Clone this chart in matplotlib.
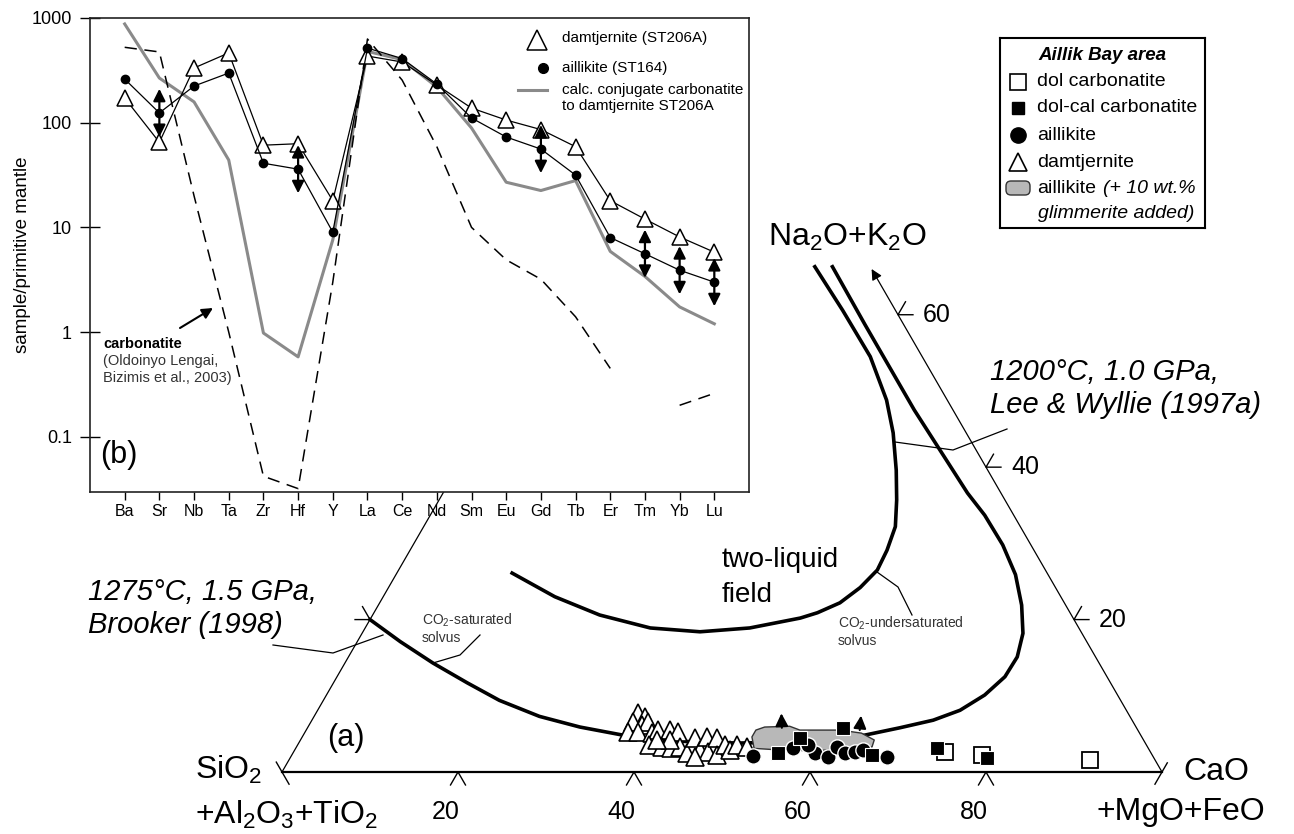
import numpy as np
import matplotlib
matplotlib.use('Agg')
from matplotlib import pyplot as plt
from matplotlib.patches import Polygon, FancyBboxPatch
from matplotlib.ticker import FixedLocator, NullLocator

plt.rcParams['font.family'] = ['Liberation Sans', 'DejaVu Sans']
plt.rcParams['mathtext.fontset'] = 'custom'
plt.rcParams['mathtext.rm'] = 'Liberation Sans'
plt.rcParams['mathtext.it'] = 'Liberation Sans:italic'
plt.rcParams['mathtext.bf'] = 'Liberation Sans:bold'

W, H = 1294, 834

# ---------------- (b) spider diagram, sample / primitive mantle ----------------
elements = ['Ba', 'Sr', 'Nb', 'Ta', 'Zr', 'Hf', 'Y', 'La', 'Ce', 'Nd',
            'Sm', 'Eu', 'Gd', 'Tb', 'Er', 'Tm', 'Yb', 'Lu']
damtjernite_st206a = [172, 65, 333, 464, 61, 63, 18, 433, 380, 229,
                      138, 106, 86, 59, 18, 12, 8.1, 5.8]
aillikite_st164 = [261, 124, 224, 298, 41, 36, 9.0, 516, 410, 234,
                   111, 73, 56, 31.6, 8.0, 5.6, 3.9, 3.0]
conjugate_carbonatite = [877, 267, 158, 44, 0.98, 0.58, 7.6, 480, 400, 219,
                         89, 27, 22.5, 28, 5.9, 3.4, 1.74, 1.2]
lengai_carbonatite = [525, 474, 20, 1.0, 0.042, 0.032, 3.0, 630, 255, 59,
                      10, 4.9, 3.2, 1.4, 0.45, np.nan, 0.20, 0.26]
range_elements = ['Sr', 'Hf', 'Gd', 'Tm', 'Yb', 'Lu']
range_factor = 1.7
yticks_b = [0.1, 1, 10, 100, 1000]
ytick_labels_b = ['0.1', '1', '10', '100', '1000']

# ---------------- (a) ternary, wt.% CaO+MgO+FeO and Na2O+K2O ----------------
damt_cao = [36.6, 37.6, 36.6, 37.8, 38.3, 36.7, 37.8, 39.5, 40.0, 41.3, 42.4, 40.0, 41.5, 42.7, 43.6,
            44.8, 44.7, 46.1, 46.0, 47.1, 47.2, 48.3, 48.6, 49.5, 50.0, 45.9, 42.0, 40.5, 51.2]
damt_alk = [7.7, 7.2, 6.6, 6.2, 6.6, 5.2, 5.2, 5.1, 5.5, 5.5, 5.2, 3.5, 3.3, 3.1, 3.3,
            2.5, 4.5, 2.9, 4.6, 2.6, 4.5, 2.2, 3.5, 2.9, 3.5, 2.0, 4.2, 4.2, 3.3]
aill_cao = [52.5, 56.5, 59.3, 61.1, 61.4, 62.7, 63.8, 64.6, 67.8, 58.0]
aill_alk = [2.1, 3.1, 2.5, 2.0, 3.3, 2.5, 2.6, 2.9, 2.0, 3.5]
dolcal_cao = [55.1, 56.6, 60.9, 65.9, 72.9, 79.2]
dolcal_alk = [2.5, 4.5, 5.8, 2.2, 3.1, 1.8]
dol_cao = [74.0, 78.5, 91.0]
dol_alk = [2.6, 2.2, 1.6]
glim_cao = [51.1, 51.1, 51.9, 54.7, 56.1, 60.7, 63.3, 65.2, 65.4, 63.1, 56.4, 52.1]
glim_alk = [4.6, 5.5, 5.9, 6.0, 5.5, 5.5, 5.1, 4.2, 3.3, 2.9, 2.8, 3.1]
glim_shift_from = [(53.9, 5.8), (62.9, 5.5)]
glim_shift_to = [(52.9, 7.7), (62.1, 7.4)]

brooker_cao = [0.0, 4.9, 10.0, 15.2, 20.0, 25.6, 30.9, 36.0, 40.9, 45.5, 50.1, 54.6, 59.0, 63.3, 67.3,
               70.6, 73.0, 74.8, 75.9, 76.0, 75.1, 73.1, 70.4, 67.0, 63.0, 59.6, 48.1, 36.9, 29.4]
brooker_alk = [20.0, 17.1, 14.3, 11.7, 9.4, 7.3, 5.9, 4.9, 4.2, 3.9, 3.8, 3.9, 4.2, 4.7, 5.8,
               6.8, 8.1, 10.1, 12.5, 15.1, 18.2, 21.9, 25.9, 29.8, 33.7, 36.6, 47.5, 58.7, 66.3]
leewyllie_cao = [13.1, 19.5, 25.8, 32.4, 38.3, 43.7, 48.8, 50.4, 52.3, 53.6, 54.4, 54.2, 53.6, 52.0,
                 50.0, 47.2, 44.3, 39.6, 33.4, 27.4]
leewyllie_alk = [26.1, 23.0, 20.6, 18.9, 18.4, 18.9, 20.2, 20.9, 22.2, 24.2, 26.5, 29.1, 32.2, 35.7,
                 39.6, 44.5, 48.8, 54.5, 60.6, 66.3]

base_ticks = [20, 40, 60, 80]
right_ticks = [20, 40, 60]
left_ticks = [20, 40, 60, 80]


def tern(cao, alk):
    c = np.asarray(cao, dtype=float) / 100
    a = np.asarray(alk, dtype=float) / 100
    return c + a / 2, a * np.sqrt(3) / 2


def px(x, y):
    # picture pixel -> ternary axes coords (base 880 px wide, at y=772)
    return (x - 282) / 880, (772 - y) / 880


def ipx(x, y):
    # picture pixel -> inset axes fraction
    return (x - 90) / 659, (492 - y) / 474


fig = plt.figure(figsize=(W / 100, H / 100), dpi=100)
fig.patch.set_facecolor('white')

# ---------------- ternary ----------------
ax = fig.add_axes([0, 0, 1, 1])
ax.set_xlim(-282 / 880, (W - 282) / 880)
ax.set_ylim(-(H - 772) / 880, 772 / 880)
ax.set_axis_off()

s3 = np.sqrt(3) / 2
ax.plot([0, 1], [0, 0], color='k', lw=1.6, zorder=2)
lx, ly = tern([0, 0], [0, 95])
ax.plot(lx, ly, color='k', lw=0.9, zorder=2)
ax.annotate('', xy=tern(34, 66), xytext=tern(100, 0),
            arrowprops=dict(arrowstyle='-|>', color='k', lw=0.9, mutation_scale=16,
                            shrinkA=0, shrinkB=0), zorder=2)

L = 0.017


def chevron(x0, y0, d1, d2):
    ax.plot([x0 + L * d1[0], x0, x0 + L * d2[0]], [y0 + L * d1[1], y0, y0 + L * d2[1]],
            color='k', lw=1.0, zorder=2)


for c in base_ticks:
    x0, y0 = tern(c, 0)
    chevron(x0, y0, (-0.5, -s3), (0.5, -s3))
    ax.annotate(f'{c}', xy=(float(x0), float(y0)), xytext=(-9, -29), textcoords='offset points',
                ha='center', va='center', fontsize=18)
for a in right_ticks:
    x0, y0 = tern(100 - a, a)
    chevron(x0, y0, (1, 0), (0.5, s3))
    ax.annotate(f'{a}', xy=(float(x0), float(y0)), xytext=(18, 0), textcoords='offset points',
                ha='left', va='center', fontsize=18)
for a in left_ticks:
    x0, y0 = tern(0, a)
    chevron(x0, y0, (-1, 0), (-0.5, s3))
ax.plot([-0.013 * 0.5, 0.016 * 0.5], [0.013 * s3, -0.016 * s3], color='k', lw=1.0)
ax.plot([1 - 0.016 * 0.5, 1 + 0.012 * 0.5], [-0.016 * s3, 0.012 * s3], color='k', lw=1.0)

# solvus curves
ax.plot(*tern(brooker_cao, brooker_alk), color='k', lw=2.6, solid_joinstyle='round', zorder=2)
ax.plot(*tern(leewyllie_cao, leewyllie_alk), color='k', lw=2.6, solid_joinstyle='round', zorder=2)

# glimmerite-added aillikite field
ax.add_patch(Polygon(np.column_stack(tern(glim_cao, glim_alk)), closed=True, fc='#b8b8b8',
                     ec='#333333', lw=1.0, joinstyle='round', zorder=3))
for (c0, a0), (c1, a1) in zip(glim_shift_from, glim_shift_to):
    ax.annotate('', xy=tern(c1, a1), xytext=tern(c0, a0),
                arrowprops=dict(arrowstyle='-|>', color='k', lw=1.5, mutation_scale=19,
                                shrinkA=0, shrinkB=0), zorder=8)

ax.plot(*tern(damt_cao, damt_alk), ls='none', marker='^', ms=13, mfc='white', mec='k', mew=1.2, zorder=4)
ax.plot(*tern(aill_cao, aill_alk), ls='none', marker='o', ms=11, mfc='k', mec='white', mew=1.0, zorder=5)
ax.plot(*tern(dol_cao, dol_alk), ls='none', marker='s', ms=11, mfc='white', mec='k', mew=1.3, zorder=5)
ax.plot(*tern(dolcal_cao, dolcal_alk), ls='none', marker='s', ms=10, mfc='k', mec='white', mew=0.8, zorder=6)

# labels of the ternary
ax.text(*px(768, 237), 'Na$_2$O+K$_2$O', fontsize=23, ha='left', va='center')
ax.text(*px(195, 770), 'SiO$_2$', fontsize=23, ha='left', va='center')
ax.text(*px(195, 815), '+Al$_2$O$_3$+TiO$_2$', fontsize=23, ha='left', va='center')
ax.text(*px(1183, 772), 'CaO', fontsize=23, ha='left', va='center')
ax.text(*px(1097, 812), '+MgO+FeO', fontsize=23, ha='left', va='center')
ax.text(*px(346, 738), '(a)', fontsize=22, ha='center', va='center')
ax.text(*px(722, 560), 'two-liquid', fontsize=20, ha='left', va='center')
ax.text(*px(722, 595), 'field', fontsize=20, ha='left', va='center')
ax.text(*px(88, 592), '1275°C, 1.5 GPa,', fontsize=21, style='italic', ha='left', va='center')
ax.text(*px(88, 625), 'Brooker (1998)', fontsize=21, style='italic', ha='left', va='center')
ax.text(*px(990, 372), '1200°C, 1.0 GPa,', fontsize=21, style='italic', ha='left', va='center')
ax.text(*px(990, 405), 'Lee & Wyllie (1997a)', fontsize=21, style='italic', ha='left', va='center')
ax.text(*px(422, 620), 'CO$_2$-saturated', fontsize=10, color='#333333', ha='left', va='center')
ax.text(*px(422, 638), 'solvus', fontsize=10, color='#333333', ha='left', va='center')
ax.text(*px(838, 623), 'CO$_2$-undersaturated', fontsize=10, color='#333333', ha='left', va='center')
ax.text(*px(838, 641), 'solvus', fontsize=10, color='#333333', ha='left', va='center')

leaders = [[(273, 645), (333, 653), (383, 635)],
           [(480, 635), (460, 655), (433, 663)],
           [(895, 442), (953, 450), (1007, 429)],
           [(877, 572), (898, 587), (912, 615)]]
for pts in leaders:
    xy = np.array([px(*p) for p in pts])
    ax.plot(xy[:, 0], xy[:, 1], color='k', lw=0.9, zorder=2)

# ---------------- inset spider plot ----------------
ax_in = fig.add_axes([90 / W, 1 - 492 / H, 659 / W, 474 / H])
ax_in.set_facecolor('white')
x = np.arange(len(elements))
ax_in.plot(x, conjugate_carbonatite, color='#8a8a8a', lw=2.2, zorder=2)
ax_in.plot(x, lengai_carbonatite, color='k', lw=1.1, dashes=(8, 5), zorder=2)
ax_in.plot(x, damtjernite_st206a, color='k', lw=0.9, marker='^', ms=11, mfc='white', mec='k',
           mew=1.1, zorder=4)
ax_in.plot(x, aillikite_st164, color='k', lw=0.9, marker='o', ms=6, mfc='k', mec='k', zorder=5)
for el in range_elements:
    i = elements.index(el)
    v = aillikite_st164[i]
    ax_in.annotate('', xy=(i, v * range_factor), xytext=(i, v / range_factor),
                   arrowprops=dict(arrowstyle='<|-|>', color='k', lw=1.6, mutation_scale=18,
                                   shrinkA=0, shrinkB=0), zorder=6)

ax_in.set_yscale('log')
ax_in.set_ylim(10 ** (3 - 474 / 104.7), 1000)
ax_in.set_xlim(-1, 18)
ax_in.yaxis.set_major_locator(FixedLocator(yticks_b))
ax_in.yaxis.set_minor_locator(NullLocator())
ax_in.set_yticklabels(ytick_labels_b)
ax_in.set_xticks(x)
ax_in.set_xticklabels(elements)
ax_in.tick_params(axis='y', direction='inout', length=14, width=1.0, labelsize=13, pad=6)
ax_in.tick_params(axis='x', direction='out', length=6, width=1.0, labelsize=11.5, pad=3)
for sp in ax_in.spines.values():
    sp.set_linewidth(1.2)
    sp.set_color('#222222')
ax_in.set_ylabel('sample/primitive mantle', fontsize=13.5)
ax_in.yaxis.set_label_coords(-0.09, 0.5)

ax_in.plot(*ipx(537, 40), marker='^', ms=14, mfc='white', mec='k', mew=1.1, transform=ax_in.transAxes)
ax_in.text(*ipx(562, 38), 'damtjernite (ST206A)', fontsize=11, ha='left', va='center',
           transform=ax_in.transAxes)
ax_in.plot(*ipx(543, 68), marker='o', ms=7, mfc='k', mec='k', transform=ax_in.transAxes)
ax_in.text(*ipx(562, 68), 'aillikite (ST164)', fontsize=11, ha='left', va='center',
           transform=ax_in.transAxes)
gx = [ipx(518, 90)[0], ipx(547, 90)[0]]
ax_in.plot(gx, [ipx(0, 90)[1]] * 2, color='#8a8a8a', lw=2.2, transform=ax_in.transAxes)
ax_in.text(*ipx(562, 90), 'calc. conjugate carbonatite', fontsize=11, ha='left', va='center',
           transform=ax_in.transAxes)
ax_in.text(*ipx(562, 106), 'to damtjernite ST206A', fontsize=11, ha='left', va='center',
           transform=ax_in.transAxes)

ax_in.text(*ipx(103, 344), 'carbonatite', fontsize=10.5, weight='bold', ha='left', va='center',
           transform=ax_in.transAxes)
ax_in.text(*ipx(103, 361), '(Oldoinyo Lengai,', fontsize=10.5, color='#333333', ha='left',
           va='center', transform=ax_in.transAxes)
ax_in.text(*ipx(103, 378), 'Bizimis et al., 2003)', fontsize=10.5, color='#333333', ha='left',
           va='center', transform=ax_in.transAxes)
ax_in.annotate('', xy=ipx(213, 308), xytext=ipx(180, 328), xycoords='axes fraction',
               arrowprops=dict(arrowstyle='-|>', color='k', lw=1.5, mutation_scale=16,
                               shrinkA=0, shrinkB=0))
ax_in.text(*ipx(100, 455), '(b)', fontsize=22, ha='left', va='center', transform=ax_in.transAxes)

# ---------------- legend box ----------------
lg = fig.add_axes([1000 / W, 1 - 228 / H, 205 / W, 190 / H])
lg.set_xlim(0, 205)
lg.set_ylim(190, 0)
lg.set_xticks([])
lg.set_yticks([])
for sp in lg.spines.values():
    sp.set_linewidth(1.5)
lg.text(38, 17, 'Aillik Bay area', fontsize=13.5, weight='bold', style='italic', ha='left', va='center')
rows = [44, 70, 97, 124, 150]
lg.plot(18, rows[0], marker='s', ms=11, mfc='white', mec='k', mew=1.2)
lg.plot(18, rows[1], marker='s', ms=8.5, mfc='k', mec='k')
lg.plot(18, rows[2], marker='o', ms=11, mfc='k', mec='k')
lg.plot(18, rows[3], marker='^', ms=13, mfc='white', mec='k', mew=1.2)
lg.add_patch(FancyBboxPatch((8, rows[4] - 5), 20, 10, boxstyle='round,pad=2,rounding_size=5',
                            fc='#b8b8b8', ec='#333333', lw=1.0))
names = ['dol carbonatite', 'dol-cal carbonatite', 'aillikite', 'damtjernite', 'aillikite']
for r, nm in zip(rows, names):
    lg.text(37, r, nm, fontsize=14, ha='left', va='center')
lg.text(103, rows[4], '(+ 10 wt.%', fontsize=14, style='italic', ha='left', va='center')
lg.text(38, 175, 'glimmerite added)', fontsize=14, style='italic', ha='left', va='center')

fig.savefig('out.png', dpi=100)
